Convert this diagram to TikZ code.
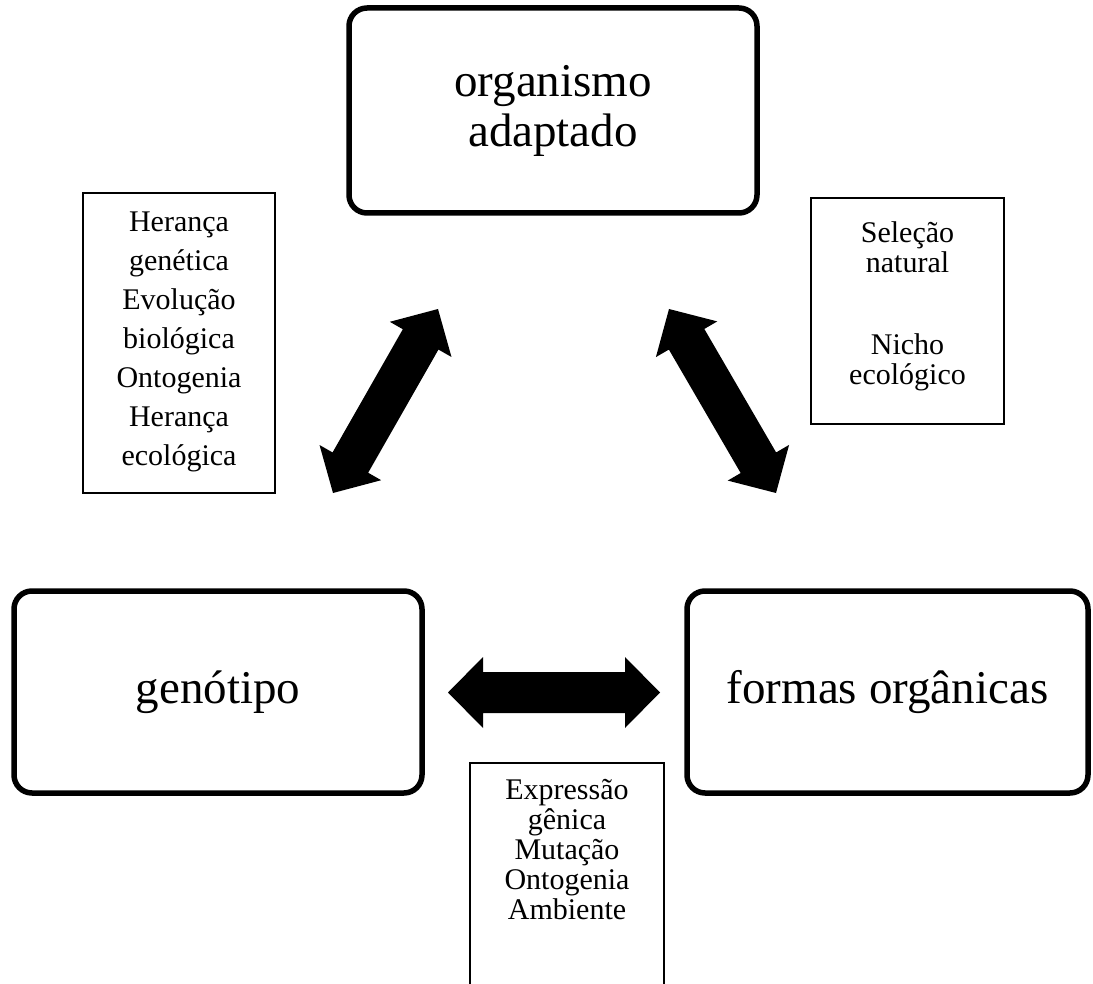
\documentclass[tikz,border=0pt]{standalone}
\usepackage{fontspec}
\setmainfont{Liberation Serif}
\usetikzlibrary{calc}

\tikzset{
  bigbox/.style={draw, line width=5.5pt, rounded corners=18pt, inner sep=0pt,
    align=center, font=\fontsize{47}{50}\selectfont},
  notebox/.style={draw, line width=1.2pt, inner sep=0pt},
  notetext/.style={anchor=north, inner sep=0pt, align=center,
    font=\fontsize{30}{30}\selectfont},
}

% Solid double-headed block arrow between two named points
\newcommand\dblarrow[2]{%
  \coordinate (ha) at ($(#1)!35pt!(#2)$);
  \coordinate (hb) at ($(#2)!35pt!(#1)$);
  \fill (#1) -- ($(ha)!35.5pt!90:(#1)$) -- ($(ha)!20.5pt!90:(#1)$)
    -- ($(hb)!20.5pt!-90:(#2)$) -- ($(hb)!35.5pt!-90:(#2)$) -- (#2)
    -- ($(hb)!35.5pt!90:(#2)$) -- ($(hb)!20.5pt!90:(#2)$)
    -- ($(ha)!20.5pt!-90:(#1)$) -- ($(ha)!35.5pt!-90:(#1)$) -- cycle;}

\begin{document}
\begin{tikzpicture}[x=1pt,y=-1pt]
  \useasboundingbox (0,0) rectangle (1093,984);

  % main concepts
  \node[bigbox, minimum width=408pt, minimum height=205pt] (org) at (553,110.5)
    {organismo\\adaptado};
  \node[bigbox, minimum width=408pt, minimum height=202pt] (gen) at (218,692)
    {genótipo};
  \node[bigbox, minimum width=401pt, minimum height=202pt] (form) at (887.5,692)
    {formas orgânicas};

  % note boxes
  \node[notebox, minimum width=192pt, minimum height=300pt] (nl) at (179,343) {};
  \node[notetext, font=\fontsize{30}{39}\selectfont] (tl) at ($(nl.north)+(0,19)$)
    {Herança\\genética\\Evolução\\biológica\\Ontogenia\\Herança\\ecológica};

  \node[notebox, minimum width=193pt, minimum height=226pt] (nr) at (907.5,311) {};
  \node[notetext] (tr) at ($(nr.north)+(0,24)$)
    {Seleção\\natural\\[52pt]Nicho\\ecológico};

  \node[notebox, minimum width=194pt, minimum height=240pt] (nb) at (567,883) {};
  \node[notetext] (tb) at ($(nb.north)+(0,17)$)
    {Expressão\\gênica\\Mutação\\Ontogenia\\Ambiente};

  % arrow end points
  \coordinate (a1) at (333,493);
  \coordinate (a2) at (438,309);
  \coordinate (b1) at (669,309);
  \coordinate (b2) at (776,493);
  \coordinate (c1) at (448,692.5);
  \coordinate (c2) at (660,692.5);

  \dblarrow{a1}{a2}
  \dblarrow{b1}{b2}
  \dblarrow{c1}{c2}
\end{tikzpicture}
\end{document}
